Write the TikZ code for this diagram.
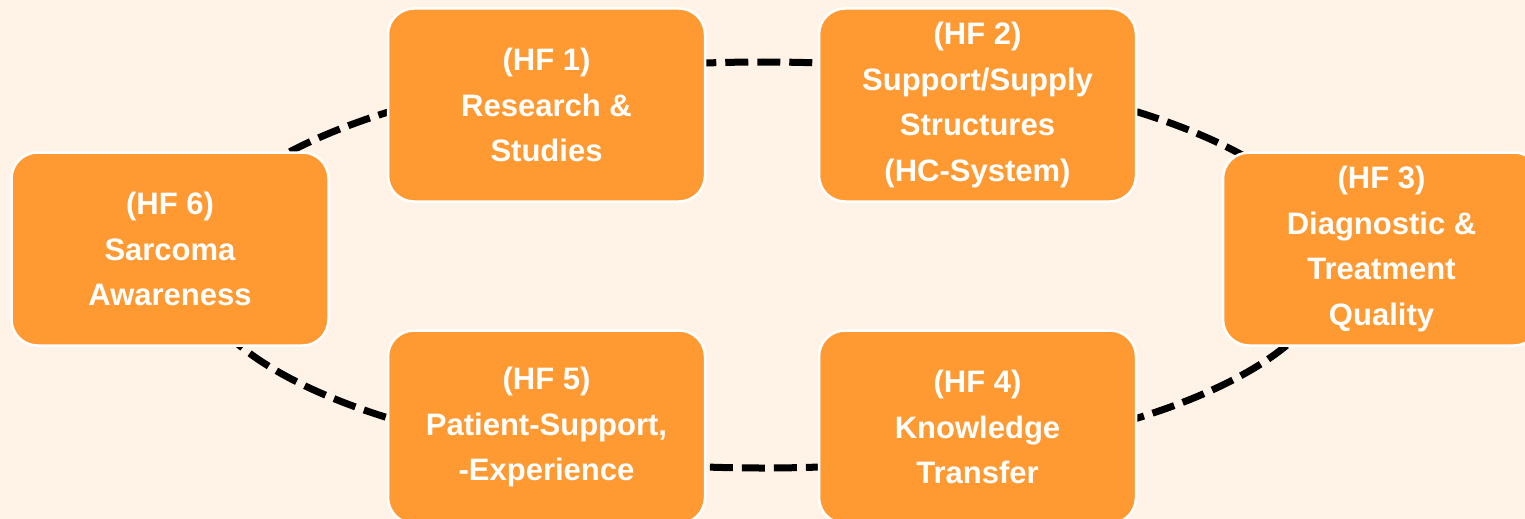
\documentclass[tikz,border=0pt]{standalone}
\usepackage{fontspec}
\setmainfont{Liberation Sans}
\definecolor{bgc}{HTML}{FFF2E6}
\definecolor{boxc}{HTML}{FF9A33}
\begin{document}
\begin{tikzpicture}[x=1pt,y=-1pt,
  hfbox/.style={rectangle, rounded corners=26pt, minimum width=317pt, minimum height=193pt,
    fill=boxc, draw=white, line width=2.5pt, text=white, align=center,
    font=\bfseries\fontsize{31}{45.5}\selectfont, inner sep=0pt},
  ring/.style={draw=black, line width=7pt, dash pattern=on 23pt off 9pt}]
\fill[bgc] (0,0) rectangle (1525,519);
\useasboundingbox (0,0) rectangle (1525,519);
\clip (0,0) rectangle (1525,519);
\coordinate (c) at (763,265);
\draw[ring] (c) ellipse [x radius=570, y radius=203];
\node[hfbox] (hf1) at (546.5,105) {(HF 1)\\Research \&\\Studies};
\node[hfbox] (hf2) at (977.5,105) {(HF 2)\\Support/Supply\\Structures\\(HC-System)};
\node[hfbox] (hf3) at (1381.5,249) {(HF 3)\\Diagnostic \&\\Treatment\\Quality};
\node[hfbox] (hf4) at (977.5,427) {(HF 4)\\Knowledge\\Transfer};
\node[hfbox] (hf5) at (546.5,427) {(HF 5)\\Patient-Support,\\-Experience};
\node[hfbox] (hf6) at (170,249) {(HF 6)\\Sarcoma\\Awareness};
\end{tikzpicture}
\end{document}
